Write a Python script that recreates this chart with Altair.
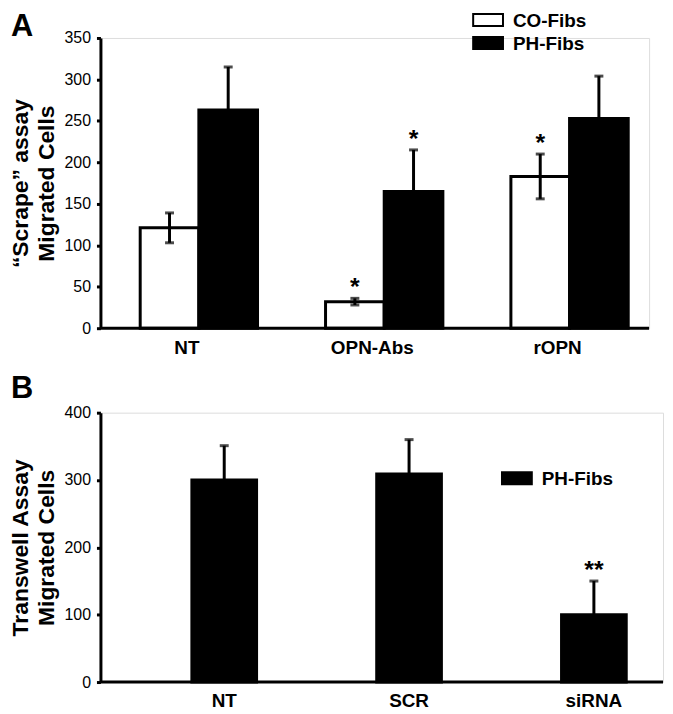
import altair as alt
import pandas as pd

FONT = "Liberation Sans"

# ---------------- Panel A data ----------------
conds_a = ["NT", "OPN-Abs", "rOPN"]
groups_a = ["CO-Fibs", "PH-Fibs"]
co_vals = [121, 32, 183]
co_errs = [18, 4, 27]
ph_vals = [263, 165, 253]
ph_errs = [52, 50, 51]
co_stars = ["", "*", "*"]
ph_stars = ["", "*", ""]

# ---------------- Panel B data ----------------
conds_b = ["NT", "SCR", "siRNA"]
b_vals = [300, 309, 100]
b_errs = [51, 51, 50]
b_stars = ["", "", "**"]

rows_a = []
for c, v, e, s in zip(conds_a, co_vals, co_errs, co_stars):
    rows_a.append(dict(cond=c, group="CO-Fibs", value=v, lo=v - e, hi=v + e, star=s))
for c, v, e, s in zip(conds_a, ph_vals, ph_errs, ph_stars):
    rows_a.append(dict(cond=c, group="PH-Fibs", value=v, lo=v, hi=v + e, star=s))
dfa = pd.DataFrame(rows_a)

rows_b = []
for c, v, e, s in zip(conds_b, b_vals, b_errs, b_stars):
    rows_b.append(dict(cond=c, group="PH-Fibs", value=v, lo=v, hi=v + e, star=s))
dfb = pd.DataFrame(rows_b)

WA, HA = 552, 292
WB, HB = 566, 271
ONE = pd.DataFrame({"k": [0]})


def yaxis(title, values, label_expr=None):
    kw = dict(
        values=values, title=title, grid=False,
        domainWidth=3, domainColor="black",
        tickWidth=3, tickSize=4, tickColor="black",
        labelFont=FONT, labelFontSize=16, labelColor="black", labelPadding=6,
        titleFont=FONT, titleFontSize=23, titleFontWeight="bold", titleColor="black",
        titleLineHeight=26, titlePadding=6,
    )
    if label_expr:
        kw["labelExpr"] = label_expr
    return alt.Axis(**kw)


def xaxis(offset, pad):
    return alt.Axis(
        title=None, domain=False, ticks=False, tickSize=0, labelAngle=0,
        labelFont=FONT, labelFontSize=19, labelFontWeight="bold", labelColor="black",
        labelPadding=pad, labelOffset=offset,
    )


def legend_entry(label, fill, x, yc):
    box = alt.Chart(ONE).mark_rect(fill=fill, stroke="black", strokeWidth=2).encode(
        x=alt.value(x), x2=alt.value(x + 30), y=alt.value(yc - 6), y2=alt.value(yc + 6))
    txt = alt.Chart(ONE).mark_text(font=FONT, fontSize=19, fontWeight="bold", align="left",
                                   baseline="alphabetic", color="black").encode(
        x=alt.value(x + 40), y=alt.value(yc + 7), text=alt.value(label))
    return [box, txt]


# ---------------- Panel A chart ----------------
xa = alt.X("cond:N", sort=conds_a,
           scale=alt.Scale(range=[40, 531], paddingInner=0.367, paddingOuter=0),
           axis=xaxis(-12, 10))
xoa = alt.XOffset("group:N", sort=groups_a, scale=alt.Scale(paddingInner=0, paddingOuter=0))
ya_scale = alt.Scale(domain=[0, 350], nice=False)

base_a = alt.Chart(dfa)
bars_a = base_a.mark_bar(stroke="black", strokeWidth=3, strokeJoin="miter").encode(
    x=xa, xOffset=xoa,
    y=alt.Y("value:Q", scale=ya_scale,
            axis=yaxis(["\u201cScrape\u201d assay", "Migrated Cells"], list(range(0, 351, 50)))),
    fill=alt.Fill("group:N", sort=groups_a,
                  scale=alt.Scale(domain=groups_a, range=["white", "black"]), legend=None),
)
err_a = base_a.mark_rule(color="black", strokeWidth=3).encode(
    x=xa, xOffset=xoa, y=alt.Y("lo:Q", scale=ya_scale), y2="hi:Q")
cap_hi_a = base_a.mark_tick(orient="horizontal", color="black", size=9, thickness=3).encode(
    x=xa, xOffset=xoa, y=alt.Y("hi:Q", scale=ya_scale))
cap_lo_a = base_a.transform_filter(alt.datum.group == "CO-Fibs").mark_tick(
    orient="horizontal", color="black", size=9, thickness=3).encode(
    x=xa, xOffset=xoa, y=alt.Y("lo:Q", scale=ya_scale))
star_a = base_a.mark_text(font=FONT, fontSize=25, fontWeight="bold", baseline="alphabetic",
                          dy=-3, color="black").encode(
    x=xa, xOffset=xoa, y=alt.Y("hi:Q", scale=ya_scale), text="star:N")
axis_line_a = alt.Chart(ONE).mark_rule(color="black", strokeWidth=3).encode(
    x=alt.value(0), x2=alt.value(WA), y=alt.value(HA))
letter_a = alt.Chart(ONE).mark_text(
    font=FONT, fontSize=31, fontWeight="bold", align="left", baseline="alphabetic", color="black").encode(
    x=alt.value(-90), y=alt.value(-2), text=alt.value("A"))

leg_a = legend_entry(groups_a[0], "white", 375, -18) + legend_entry(groups_a[1], "black", 375, 5)

chart_a = alt.layer(bars_a, err_a, cap_hi_a, cap_lo_a, star_a, axis_line_a, letter_a, *leg_a).properties(
    width=WA, height=HA)

# ---------------- Panel B chart ----------------
xb = alt.X("cond:N", sort=conds_b,
           scale=alt.Scale(range=[92, 529], paddingInner=0.65, paddingOuter=0),
           axis=xaxis(0, 10))
yb_scale = alt.Scale(domain=[0, 400], nice=False)
base_b = alt.Chart(dfb)
bars_b = base_b.mark_bar(stroke="black", strokeWidth=3, strokeJoin="miter").encode(
    x=xb,
    y=alt.Y("value:Q", scale=yb_scale,
            axis=yaxis(["Transwell Assay", "Migrated Cells"], list(range(0, 401, 50)),
                       "datum.value % 100 === 0 ? datum.label : ''")),
    fill=alt.Fill("group:N", scale=alt.Scale(domain=["PH-Fibs"], range=["black"]), legend=None),
)
err_b = base_b.mark_rule(color="black", strokeWidth=3).encode(
    x=xb, y=alt.Y("lo:Q", scale=yb_scale), y2="hi:Q")
cap_b = base_b.mark_tick(orient="horizontal", color="black", size=9, thickness=3).encode(
    x=xb, y=alt.Y("hi:Q", scale=yb_scale))
star_b = base_b.mark_text(font=FONT, fontSize=25, fontWeight="bold", baseline="alphabetic",
                          dy=-3, color="black").encode(
    x=xb, y=alt.Y("hi:Q", scale=yb_scale), text="star:N")
axis_line_b = alt.Chart(ONE).mark_rule(color="black", strokeWidth=3).encode(
    x=alt.value(0), x2=alt.value(WB), y=alt.value(HB))
letter_b = alt.Chart(ONE).mark_text(
    font=FONT, fontSize=31, fontWeight="bold", align="left", baseline="alphabetic", color="black").encode(
    x=alt.value(-90), y=alt.value(-15), text=alt.value("B"))

leg_b = legend_entry(groups_a[1], "black", 404, 66)

chart_b = alt.layer(bars_b, err_b, cap_b, star_b, axis_line_b, letter_b, *leg_b).properties(
    width=WB, height=HB)

chart = alt.vconcat(chart_a, chart_b, spacing=14).resolve_scale(
    fill="independent", x="independent", y="independent", xOffset="independent"
).properties(
    padding=0
).configure_view(stroke=None).configure(background="white", padding=0)

chart.save("out.html", embed_options={"renderer": "svg", "actions": False, "padding": 0})
